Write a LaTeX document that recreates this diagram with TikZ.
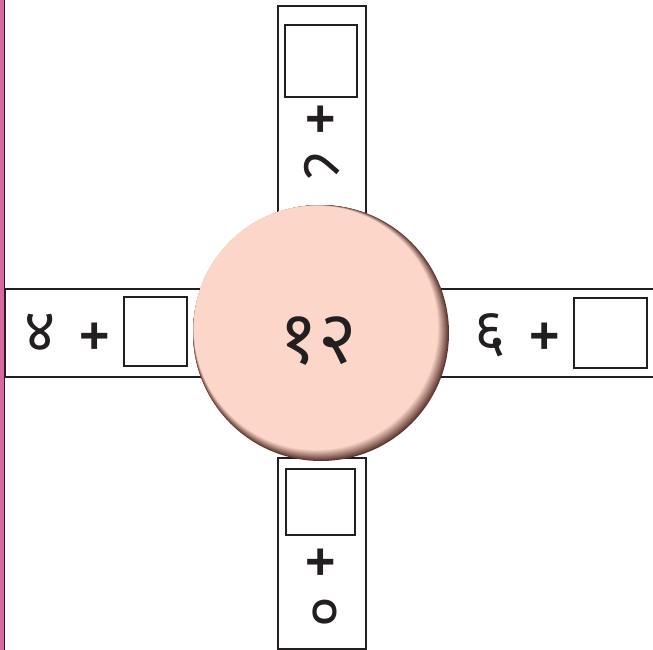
\documentclass[tikz,border=0pt]{standalone}
\usepackage{fontspec}
\setsansfont{Liberation Sans}
\newfontfamily\devfont[Script=Devanagari]{Noto Sans}
\usepackage{xcolor}
\usepackage{tikz}
\usetikzlibrary{positioning,calc}
\definecolor{crnoir}{HTML}{231F20}
\definecolor{crrose}{HTML}{FCD6C9}
\definecolor{crombre}{HTML}{5E362F}
\definecolor{crmarge}{HTML}{D8689C}

\begin{document}
\begin{tikzpicture}[x=1pt,y=-1pt,
  bras/.style={rectangle,draw=crnoir,line width=1.8pt,fill=white,inner sep=0pt},
  case/.style={rectangle,draw=crnoir,line width=1.8pt,fill=white,inner sep=0pt},
  plus/.style={font=\fontsize{52}{52}\sffamily\bfseries,text=crnoir,inner sep=0pt},
  chiffre/.style={font=\devfont\fontsize{60}{60}\selectfont,text=crnoir,inner sep=0pt}]
  \useasboundingbox (0,0) rectangle (653,650);
  % marge de page
  \fill[crmarge] (0,0) rectangle (3.6,650);
  \draw[crnoir,line width=1.2pt] (4.3,0) -- (4.3,650);
  % les quatre bras
  \node[bras,minimum width=88,minimum height=209] (brasN) at (322,110.5) {};
  \node[bras,minimum width=88,minimum height=191] (brasS) at (322,553.5) {};
  \node[bras,minimum width=205,minimum height=88] (brasO) at (107.5,333) {};
  \node[bras,minimum width=225,minimum height=88] (brasE) at (547.5,333) {};
  % bras du haut
  \node[case,minimum width=72,minimum height=72] (caseN) at (321,61) {};
  \node[plus] (plusN) at (321,121) {+};
  \node[chiffre,rotate=-90] (huit) at (321,166) {८};
  % bras du bas
  \node[case,minimum width=69,minimum height=66] (caseS) at (320.5,502) {};
  \node[plus] (plusS) at (321,564) {+};
  \node[chiffre,rotate=-90] (zero) at (321,612) {०};
  % bras de gauche
  \node[case,minimum width=63,minimum height=69] (caseO) at (155.5,331.5) {};
  \node[plus] (plusO) at (95,338) {+};
  \node[chiffre] (quatre) at (40,333) {४};
  % bras de droite
  \node[case,minimum width=73,minimum height=70] (caseE) at (610.5,333) {};
  \node[plus] (plusE) at (545,338) {+};
  \node[chiffre] (six) at (490,335) {६};
  % disque central (relief)
  \coordinate (c) at (321,333);
  \foreach \i in {0,...,14}{
    \pgfmathsetmacro{\p}{\i*100/14}
    \fill[crrose!\p!crombre] ($(c)+(-0.36*\i,-0.36*\i)$) circle ({128-0.42*\i});
  }
  \node[circle,inner sep=0pt,minimum size=244] (rond) at ($(c)+(-5,-5)$) {};
  \node[font=\devfont\fontsize{74}{74}\selectfont,text=crnoir,inner sep=0pt]
    (total) at (318,341) {१२};
\end{tikzpicture}
\end{document}
